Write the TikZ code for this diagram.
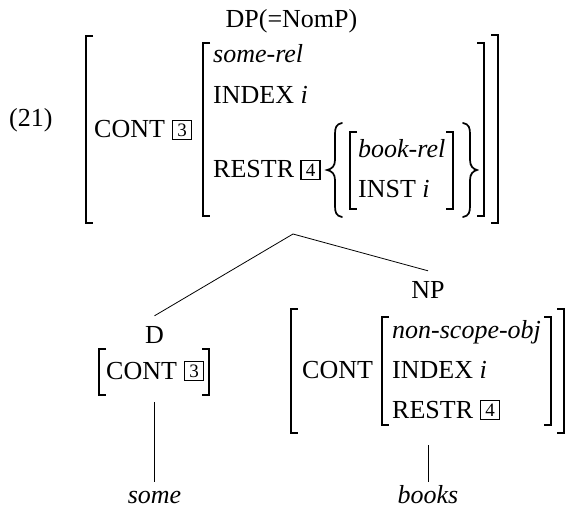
\documentclass[tikz,border=0pt]{standalone}
\usepackage[no-math]{fontspec}
\setmainfont{Liberation Serif}

\newcommand*\avmsize{\fontsize{26}{31}\selectfont}
\newcommand*\tagsize{\fontsize{19}{19}\selectfont}
\newcommand*\serif{7}
\tikzset{
    feat/.style={anchor=base west, inner sep=0pt, font=\avmsize},
    cat/.style={anchor=base, inner xsep=0pt, inner ysep=10pt, text height=17pt, font=\avmsize},
    word/.style={anchor=base, inner xsep=0pt, inner ysep=9pt, text height=12pt, font=\avmsize\itshape},
    tagbox/.style={draw, line width=1.9pt, minimum width=19pt, minimum height=19pt, inner sep=0pt, font=\tagsize},
    brak/.style={line width=1.5pt, line join=miter},
    brace/.style={line width=1.7pt, line cap=round},
    branch/.style={line width=0.8pt}
}

\begin{document}
\begin{tikzpicture}[x=1pt,y=-1pt]
    \useasboundingbox (0,0) rectangle (567,508);

    % Example number and the mother node.
    \node[feat] (ex) at (9,126) {(21)};
    \node[cat, inner ysep=0pt] (dp) at (291.5,27.5) {DP(=NomP)};

    % Draw the left brackets.
    \foreach \x/\ytop/\ybot in {86/36/223, 203/43/216, 350/132/209, 99/349/395, 291/309/433, 382/317/425}
        \draw[brak] (\x+\serif,\ytop) -- (\x,\ytop) -- (\x,\ybot) -- (\x+\serif,\ybot);

    % Draw the right brackets.
    \foreach \x/\ytop/\ybot in {498/35/223, 484/43/216, 453/132/209, 209/349/395, 564/309/433, 551/317/425}
        \draw[brak] (\x-\serif,\ytop) -- (\x,\ytop) -- (\x,\ybot) -- (\x-\serif,\ybot);

    % The set braces round book-rel.
    \draw[brace] (342,123) .. controls (336,124) and (335,128) .. (335,134) -- (335,160)
        .. controls (335,166) and (332,169) .. (327,170) .. controls (332,171) and (335,174) .. (335,180)
        -- (335,206) .. controls (335,212) and (336,216) .. (342,217);
    \draw[brace] (463,123) .. controls (469,124) and (470,128) .. (470,134) -- (470,160)
        .. controls (470,166) and (473,169) .. (477,170) .. controls (473,171) and (470,174) .. (470,180)
        -- (470,206) .. controls (470,212) and (469,216) .. (463,217);

    % Top AVM.
    \node[feat] (dp-cont) at (94,137) {CONT};
    \node[tagbox] (dp-tag3) at (182,130) {3};
    \node[feat] (dp-rel) at (213,63) {\textit{some-rel}};
    \node[feat] (dp-index) at (213,104) {INDEX \textit{i}};
    \node[feat] (dp-restr) at (213,177) {RESTR};
    \node[tagbox] (dp-tag4) at (310.5,170) {4};
    \node[feat] (book-rel) at (358,157) {\textit{book-rel}};
    \node[feat] (book-inst) at (358,197) {INST \textit{i}};
    \coordinate (dp-foot) at (293,234);

    % Left daughter.
    \node[cat] (d) at (154.5,343) {D};
    \node[feat] (d-cont) at (106,379) {CONT};
    \node[tagbox] (d-tag3) at (194,371) {3};
    \coordinate (d-foot) at (154.5,402);

    % Right daughter.
    \node[cat] (np) at (428,298) {NP};
    \node[feat] (np-cont) at (302,378) {CONT};
    \node[feat] (np-rel) at (392,338) {\textit{non-scope-obj}};
    \node[feat] (np-index) at (392,378) {INDEX \textit{i}};
    \node[feat] (np-restr) at (392,418) {RESTR};
    \node[tagbox] (np-tag4) at (490,410) {4};
    \coordinate (np-foot) at (428,445);

    % Words.
    \node[word] (some) at (154.5,503) {some};
    \node[word] (books) at (428,503) {books};

    % Draw the branches.
    \draw[branch] (dp-foot) -- (d.north);
    \draw[branch] (dp-foot) -- (np.north);
    \draw[branch] (d-foot) -- (some.north);
    \draw[branch] (np-foot) -- (books.north);

\end{tikzpicture}
\end{document}
